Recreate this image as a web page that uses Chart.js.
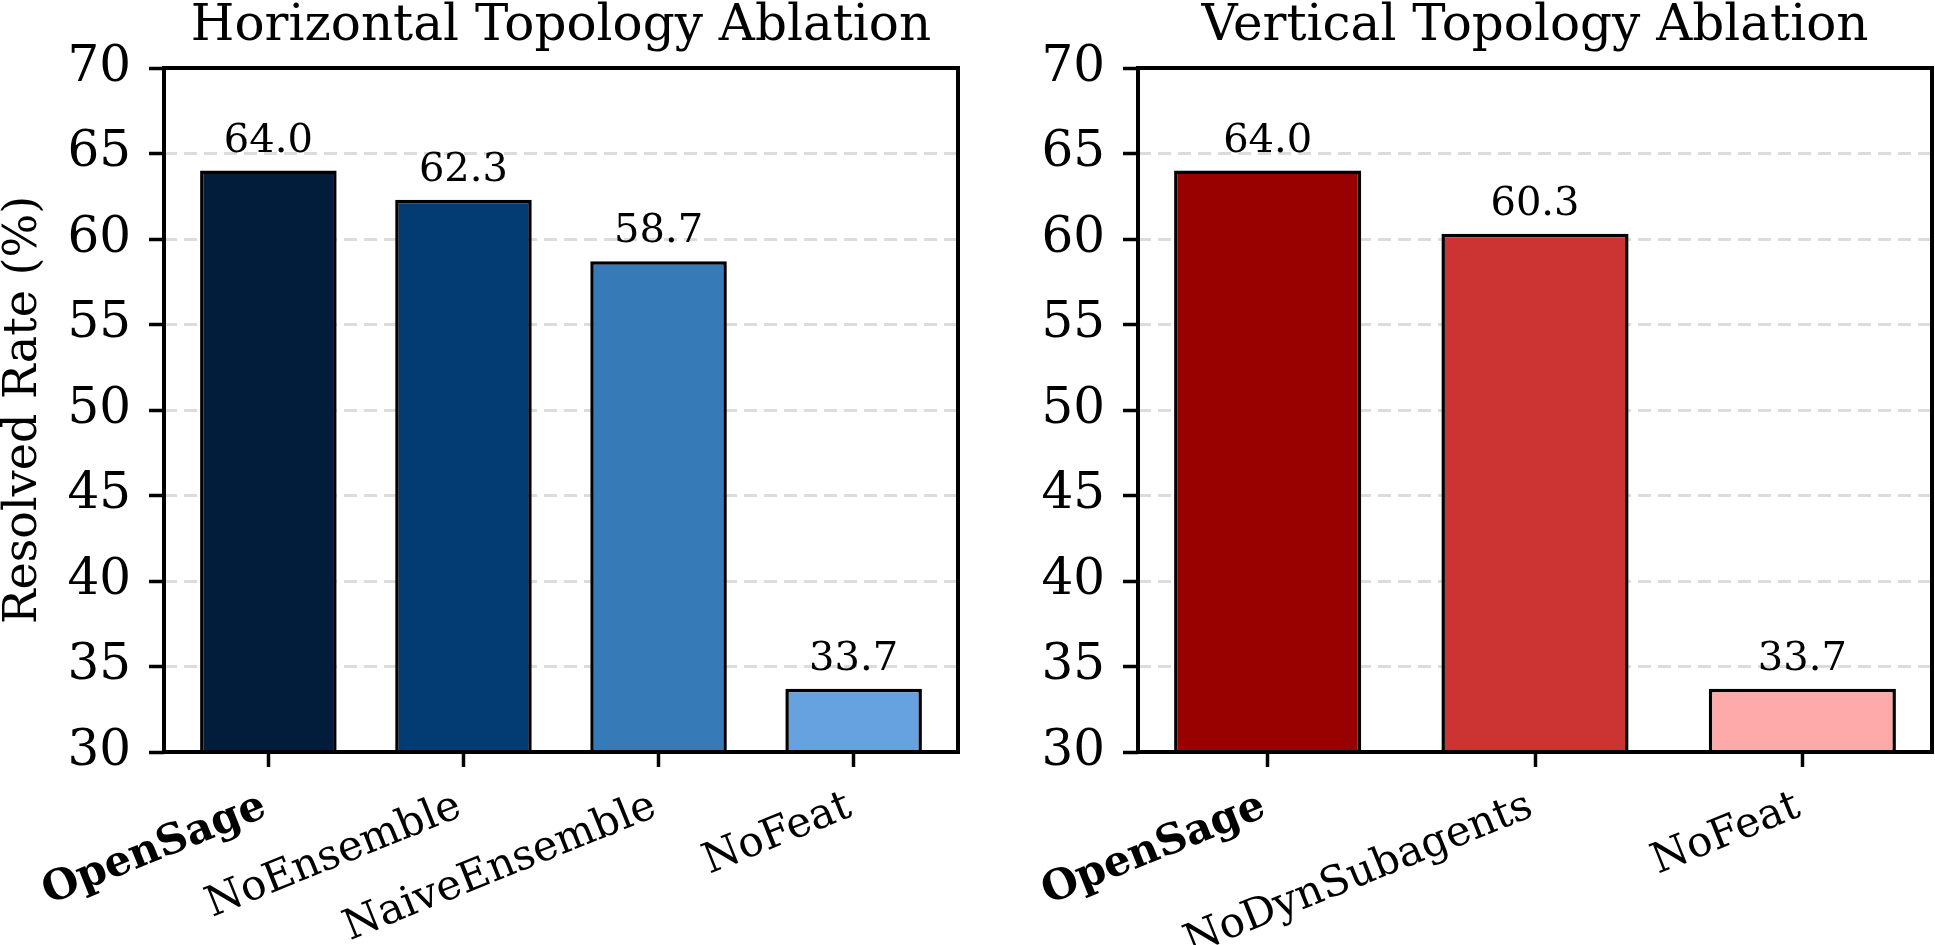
<!DOCTYPE html>
<html>
<head>
<meta charset="utf-8">
<script src="https://cdn.jsdelivr.net/npm/chart.js@4.4.1/dist/chart.umd.min.js"></script>
<style>
  body { margin: 0; background: #fff; }
  #wrap { position: relative; width: 1935px; height: 945px; }
  canvas { position: absolute; top: 0; }
</style>
</head>
<body>
<div id="wrap">
  <canvas id="horiz-chart" width="967" height="945" style="left:0"></canvas>
  <canvas id="vert-chart" width="968" height="945" style="left:967px"></canvas>
</div>
<script>
// Data
const horizLabels = ['OpenSage', 'NoEnsemble', 'NaiveEnsemble', 'NoFeat'];
const horizValues = [64.0, 62.3, 58.7, 33.7];
const horizColors = ['#011d3b', '#023c73', '#367bb8', '#65a2df'];

const vertLabels = ['OpenSage', 'NoDynSubagents', 'NoFeat'];
const vertValues = [64.0, 60.3, 33.7];
const vertColors = ['#990000', '#cc3333', '#ffaaaa'];

const yTicks = [30, 35, 40, 45, 50, 55, 60, 65, 70];

Chart.defaults.font.family = "'DejaVu Serif', serif";
Chart.defaults.color = '#000';

// Frame around the plot area (all four spines)
const framePlugin = {
    id: 'frame',
    afterDraw(chart) {
        const a = chart.chartArea;
        const ctx = chart.ctx;
        ctx.save();
        ctx.strokeStyle = '#000';
        ctx.lineWidth = 4;
        ctx.strokeRect(a.left, a.top, a.right - a.left, a.bottom - a.top);
        ctx.restore();
    }
};

// Value labels above each bar
const valueLabelPlugin = {
    id: 'valueLabels',
    afterDatasetsDraw(chart) {
        const ctx = chart.ctx;
        const meta = chart.getDatasetMeta(0);
        const data = chart.data.datasets[0].data;
        ctx.save();
        ctx.font = "40px 'DejaVu Serif'";
        ctx.fillStyle = '#000';
        ctx.textAlign = 'center';
        ctx.textBaseline = 'alphabetic';
        meta.data.forEach((bar, i) => {
            ctx.fillText(data[i].y.toFixed(1), bar.x, bar.y - 19);
        });
        ctx.restore();
    }
};

// Title centred over the plot area
const titlePlugin = {
    id: 'axesTitle',
    afterDraw(chart, args, opts) {
        const a = chart.chartArea;
        const ctx = chart.ctx;
        ctx.save();
        ctx.font = "50px 'DejaVu Serif'";
        ctx.fillStyle = '#000';
        ctx.textAlign = 'center';
        ctx.textBaseline = 'alphabetic';
        ctx.fillText(opts.text, (a.left + a.right) / 2, 40);
        ctx.restore();
    }
};

function makeChart(canvasId, title, labels, values, colors, axisWidth, showYTitle) {
    const n = labels.length;
    const pad = 0.05 * (n - 1 + 0.7);
    const ctx = document.getElementById(canvasId).getContext('2d');

    return new Chart(ctx, {
        type: 'bar',
        data: {
            datasets: [{
                data: values.map((v, i) => ({ x: i, y: v })),
                backgroundColor: colors,
                borderColor: '#000',
                borderWidth: 3.5,
                borderSkipped: false,
                categoryPercentage: 1.0,
                barPercentage: 0.7
            }]
        },
        options: {
            responsive: false,
            animation: false,
            devicePixelRatio: 1,
            layout: { padding: { top: 68, right: canvasId === 'horiz-chart' ? 9 : 3, bottom: 0, left: 0 } },
            plugins: {
                legend: { display: false },
                tooltip: { enabled: false },
                axesTitle: { text: title }
            },
            scales: {
                x: {
                    type: 'linear',
                    offset: false,
                    min: -0.35 - pad,
                    max: n - 1 + 0.35 + pad,
                    afterBuildTicks: function(scale) {
                        scale.ticks = labels.map((l, i) => ({ value: i }));
                    },
                    afterFit: function(scale) {
                        scale.height = 193;
                    },
                    border: { display: false },
                    grid: {
                        offset: false,
                        drawOnChartArea: false,
                        drawTicks: true,
                        tickLength: 15,
                        tickWidth: 3.5,
                        tickColor: '#000'
                    },
                    ticks: {
                        autoSkip: false,
                        maxRotation: 22,
                        minRotation: 22,
                        padding: 15,
                        labelOffset: -4,
                        color: '#000',
                        callback: function(value) {
                            return labels[value];
                        },
                        font: function(context) {
                            const bold = context.tick && context.tick.value === 0;
                            return { family: "'DejaVu Serif'", size: 42, weight: bold ? 'bold' : 'normal' };
                        }
                    }
                },
                y: {
                    min: 30,
                    max: 70,
                    afterBuildTicks: function(scale) {
                        scale.ticks = yTicks.map(v => ({ value: v }));
                    },
                    afterFit: function(scale) {
                        scale.width = axisWidth;
                    },
                    border: { display: false, dash: [13, 7] },
                    grid: {
                        lineWidth: 3,
                        color: function(context) {
                            const v = context.tick ? context.tick.value : null;
                            return (v === 30 || v === 70) ? 'rgba(0,0,0,0)' : '#dcdcdc';
                        },
                        tickLength: 15,
                        tickWidth: 3.5,
                        tickColor: '#000',
                        tickBorderDash: []
                    },
                    ticks: {
                        padding: 18,
                        color: '#000',
                        font: { family: "'DejaVu Serif'", size: 50 }
                    },
                    title: {
                        display: showYTitle,
                        text: 'Resolved Rate (%)',
                        color: '#000',
                        padding: 0,
                        font: { family: "'DejaVu Serif'", size: 46, lineHeight: 1.05 }
                    }
                }
            }
        },
        plugins: [framePlugin, valueLabelPlugin, titlePlugin]
    });
}

makeChart('horiz-chart', 'Horizontal Topology Ablation', horizLabels, horizValues, horizColors, 164, true);
makeChart('vert-chart', 'Vertical Topology Ablation', vertLabels, vertValues, vertColors, 171, false);
</script>
</body>
</html>
